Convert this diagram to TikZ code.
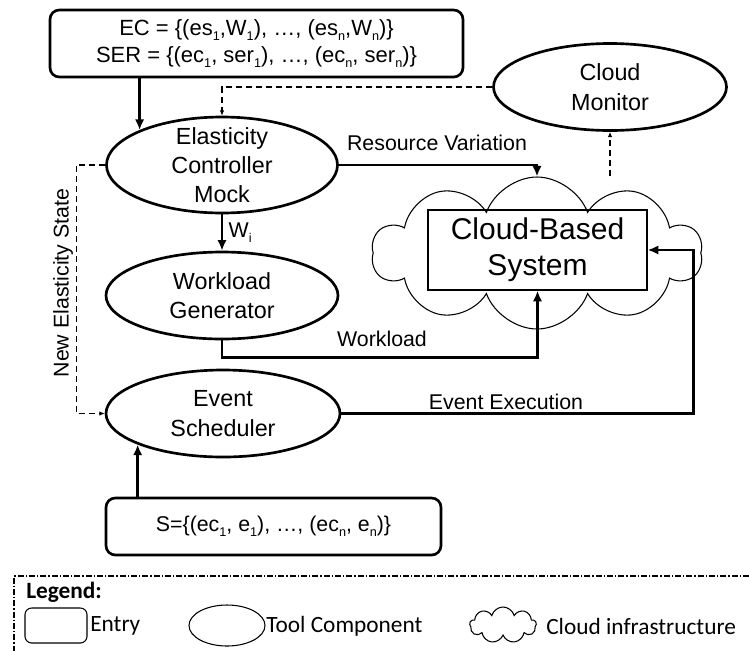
\documentclass[tikz,border=0pt]{standalone}
\usepackage{fontspec}
\setmainfont{Liberation Sans}
\newfontfamily\legendfont{Carlito}
\usetikzlibrary{shapes.geometric,shapes.symbols,arrows.meta}

\newcommand{\lsub}[1]{\raisebox{-3.5pt}{\fontsize{9.5}{9.5}\selectfont #1}}

\tikzset{
  entrybox/.style={draw, line width=2pt, rounded corners=7pt, inner sep=0pt, align=center},
  comp/.style={draw, ellipse, line width=2pt, inner sep=0pt},
  comptext/.style={align=center, font=\fontsize{17.5}{22}\selectfont},
  lbl/.style={font=\fontsize{16}{19}\selectfont, inner sep=1pt},
  flow/.style={line width=2pt, -{Latex[length=8pt,width=7pt]}},
  state/.style={line width=0.9pt, dash pattern=on 4.5pt off 3pt, -{Latex[length=4pt,width=3.5pt]}},
  infra/.style={draw, cloud, cloud puffs=10, cloud puff arc=140, cloud ignores aspect, line width=0.8pt, inner sep=0pt},
  legtext/.style={font=\legendfont\fontsize{17.5}{21}\selectfont, anchor=west, inner sep=0pt},
}

\begin{document}
\begin{tikzpicture}[x=0.75pt, y=-0.75pt]
  \useasboundingbox (0,0) rectangle (749,651);

  % entries
  \node[entrybox, minimum width=309.75pt, minimum height=50.25pt, font=\fontsize{16.5}{20}\selectfont] (entryec) at (256.5,43.5)
    {EC = \{(es\lsub{1},W\lsub{1}), …, (es\lsub{n},W\lsub{n})\}\\
     SER = \{(ec\lsub{1}, ser\lsub{1}), …, (ec\lsub{n}, ser\lsub{n})\}};
  \node[entrybox, minimum width=251.25pt, minimum height=42.75pt, font=\fontsize{16}{19}\selectfont] (entrys) at (273.5,526.5)
    {S=\{(ec\lsub{1}, e\lsub{1}), …, (ec\lsub{n}, e\lsub{n})\}};

  % tool components
  \node[comp, minimum width=173.25pt, minimum height=72pt, label={[comptext]center:Elasticity\\Controller\\Mock}] (ec) at (222,165) {};
  \node[comp, minimum width=174.75pt, minimum height=65.25pt, label={[comptext]center:Cloud\\Monitor}] (cm) at (610,87) {};
  \node[comp, minimum width=174pt, minimum height=65.25pt, label={[comptext]center:Workload\\Generator}] (wg) at (222,295.5) {};
  \node[comp, minimum width=175.5pt, minimum height=65.25pt, label={[comptext]center:Event\\Scheduler}] (es) at (223,413.5) {};

  % cloud infrastructure
  \node[infra, minimum width=247.5pt, minimum height=114pt] (cloud) at (537,253) {};
  \node[draw, line width=1pt, minimum width=164.25pt, minimum height=60pt, inner sep=0pt, align=center,
        font=\fontsize{22.5}{27}\selectfont] (cbs) at (537.5,250) {Cloud-Based\\System};

  % connectors
  \draw[flow] (ec.157 |- entryec.south) -- (ec.157);
  \draw[flow] (ec.south) -- (wg.north) node[lbl, midway, right, xshift=3pt] (wi) {W\lsub{i}};
  \draw[flow] (ec.east) -| (cloud.north);
  \node[lbl] (rv) at (437,143) {Resource Variation};
  \draw[flow] (wg.south) -- ++(0,17) -| (cbs.south);
  \node[lbl] (wl) at (382,339) {Workload};
  \draw[flow] (es.east) -- ++(352,0) |- (cbs.east);
  \node[lbl] (ee) at (506,402) {Event Execution};
  \draw[flow] (es.200 |- entrys.north) -- (es.200);

  \draw[state] (cloud.north -| cm.south) -- (cm.south);
  \draw[state] (cm.west) -| (ec.north);
  \draw[state] (ec.west) -- ++(-29,0) |- (es.west);
  \node[lbl, rotate=90] (nes) at (63,283) {New Elasticity State};

  % legend
  \draw[line width=0.8pt, dash pattern=on 4.5pt off 1.5pt on 1pt off 1.5pt] (749,576) -- (14,576) -- (14,651);
  \node[legtext, font=\legendfont\bfseries\fontsize{17.5}{21}\selectfont] (legtitle) at (26,592) {Legend:};
  \node[draw, line width=0.8pt, rounded corners=5pt, minimum width=46.5pt, minimum height=26.25pt, inner sep=0pt] (legentry) at (56,625.5) {};
  \node[legtext] (legentrytxt) at (90,626) {Entry};
  \node[draw, ellipse, line width=0.8pt, minimum width=57pt, minimum height=30.75pt, inner sep=0pt] (legcomp) at (227,625.5) {};
  \node[legtext] (legcomptxt) at (266,626) {Tool Component};
  \node[draw, cloud, cloud puffs=9, cloud ignores aspect, line width=0.8pt, minimum width=50pt, minimum height=27pt, inner sep=0pt] (legcloud) at (503,625) {};
  \node[legtext] (legcloudtxt) at (546,626) {Cloud infrastructure};
\end{tikzpicture}
\end{document}
